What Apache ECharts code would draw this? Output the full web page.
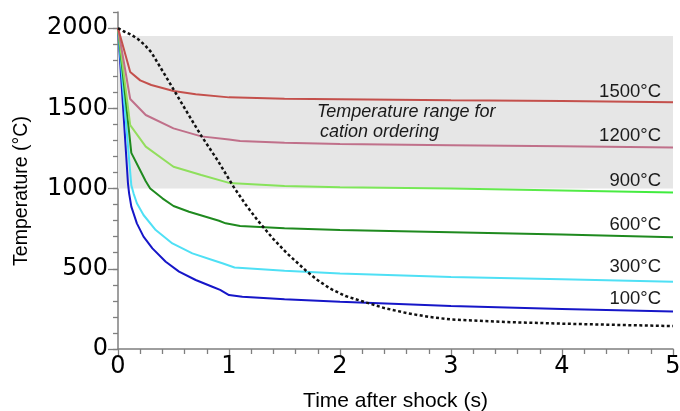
<!DOCTYPE html>
<html>
<head>
<meta charset="utf-8">
<script src="https://cdn.jsdelivr.net/npm/echarts@6/dist/echarts.min.js"></script>
<style>
html,body{margin:0;padding:0;background:#fff;}
#chart{width:680px;height:411px;}
</style>
</head>
<body>
<div id="chart"></div>
<script>
// ---- data ----
var t1500 = [0, 0.11, 0.2, 0.3, 0.5, 0.7, 1.0, 1.5, 2, 3, 4, 5];
var T1500 = [2000, 1726, 1674, 1645, 1608, 1588, 1568, 1560, 1557, 1550, 1545, 1537];

var t1200 = [0, 0.11, 0.25, 0.5, 0.75, 1.0, 1.1, 1.5, 2, 3, 4, 5];
var T1200 = [2000, 1558, 1458, 1375, 1325, 1305, 1296, 1285, 1277, 1270, 1263, 1255];

var t900 = [0, 0.11, 0.25, 0.5, 0.75, 1.0, 1.5, 2, 3, 4, 5];
var T900 = [2000, 1395, 1261, 1136, 1084, 1035, 1015, 1008, 1000, 988, 976];

var t600 = [0, 0.12, 0.25, 0.29, 0.4, 0.5, 0.64, 0.79, 0.91, 0.97, 1.1, 1.5, 2, 3, 4, 5];
var T600 = [2000, 1222, 1045, 1000, 939, 891, 855, 824, 799, 783, 767, 752, 741, 727, 713, 696];

var t300 = [0, 0.12, 0.14, 0.17, 0.23, 0.34, 0.49, 0.67, 0.85, 0.94, 1.05, 1.5, 2, 3, 4, 5];
var T300 = [2000, 1020, 970, 908, 835, 741, 658, 596, 555, 534, 508, 487, 470, 448, 434, 419];

var t100 = [0, 0.09, 0.1, 0.12, 0.17, 0.23, 0.31, 0.43, 0.55, 0.7, 0.85, 0.92, 1.0, 1.12, 1.5, 2, 3, 4, 5];
var T100 = [2000, 1030, 970, 887, 783, 700, 627, 544, 482, 430, 388, 368, 336, 326, 310, 295, 268, 250, 233];

var tDot = [0, 0.05, 0.12, 0.18, 0.24, 0.3, 0.4, 0.525, 0.63, 0.75, 0.9, 1.04, 1.15, 1.26, 1.4, 1.52, 1.7, 1.8, 1.91, 2.05, 2.24, 2.4, 2.6, 2.8, 3.0, 3.5, 4, 4.5, 5];
var TDot = [2000, 1980, 1958, 1931, 1895, 1849, 1734, 1589, 1466, 1329, 1173, 1012, 900, 800, 685, 598, 484, 428, 377, 330, 289, 255, 224, 200, 184, 168, 158, 150, 143];

var curveLabels = ['1500°C', '1200°C', '900°C', '600°C', '300°C', '100°C'];
var rangeText = ['Temperature range for', 'cation ordering'];
var rangeLow = 1000, rangeHigh = 1950;
var yMajorTicks = [0, 500, 1000, 1500, 2000];
var xTitle = 'Time after shock (s)';
var yTitle = 'Temperature (°C)';

function pairs(t, T) { return t.map(function (v, i) { return [v, T[i]]; }); }

var axisGray = '#7f7f7f';
var chart = echarts.init(document.getElementById('chart'));

function lineSeries(name, t, T, color, extra) {
  var s = {
    name: name, type: 'line', data: pairs(t, T), showSymbol: false, symbol: 'none',
    lineStyle: { color: color, width: 2 }, silent: true, animation: false
  };
  if (extra) for (var k in extra) s[k] = extra[k];
  return s;
}

var green900 = new echarts.graphic.LinearGradient(0, 0, 1, 0, [
  { offset: 0, color: '#96dc5e' }, { offset: 0.5, color: '#7ae858' }, { offset: 1, color: '#3cec3c' }
]);

var option = {
  backgroundColor: '#ffffff',
  animation: false,
  grid: { left: 118, right: 7, top: 12, bottom: 62, containLabel: false, outerBoundsMode: 'none' },
  xAxis: {
    type: 'value', min: 0, max: 5, interval: 1,
    axisLine: { show: true, lineStyle: { color: axisGray, width: 1.5 } },
    axisTick: { show: true, length: 7, lineStyle: { color: axisGray, width: 1.3 } },
    minorTick: { show: true, splitNumber: 5, length: 5, lineStyle: { color: axisGray, width: 1.3 } },
    splitLine: { show: false },
    axisLabel: { fontSize: 24, color: '#000', margin: 6, fontFamily: 'DejaVu Sans' },
    name: xTitle, nameLocation: 'middle', nameGap: 42,
    nameTextStyle: { fontSize: 21, color: '#000', fontFamily: 'Liberation Sans' }
  },
  yAxis: [
    {
      type: 'value', min: 0, max: 2100, interval: 100,
      axisLine: { show: true, lineStyle: { color: axisGray, width: 1.5 } },
      axisTick: { show: true, length: 5, lineStyle: { color: axisGray, width: 1.3 } },
      axisLabel: { show: false },
      splitLine: { show: false }
    },
    {
      type: 'value', min: 0, max: 2100, interval: 500, position: 'left',
      axisLine: { show: false },
      axisTick: { show: true, length: 10, customValues: yMajorTicks, lineStyle: { color: axisGray, width: 1.3 } },
      axisLabel: {
        fontSize: 24, color: '#000', margin: 10, fontFamily: 'DejaVu Sans', customValues: yMajorTicks,
        formatter: function (v) { return v > 2000 ? '' : String(v); }
      },
      splitLine: { show: false }
    }
  ],
  series: [
    lineSeries('100', t100, T100, '#1616c8', {
      markArea: {
        silent: true,
        itemStyle: { color: '#e6e6e6' },
        data: [[{ coord: [0, rangeHigh] }, { coord: [5, rangeLow] }]]
      }
    }),
    lineSeries('300', t300, T300, '#4fe0f5'),
    lineSeries('600', t600, T600, '#1f8a1f'),
    lineSeries('900', t900, T900, green900),
    lineSeries('1200', t1200, T1200, '#c0708a'),
    lineSeries('1500', t1500, T1500, '#c4504c'),
    lineSeries('shock', tDot, TDot, '#111', {
      smooth: false,
      lineStyle: { color: '#111', width: 2.5, type: [3, 2.5] }
    })
  ],
  graphic: [
    { type: 'text', x: 22, y: 191, rotation: Math.PI / 2, z: 100,
      style: { text: yTitle, fontSize: 19.5, fill: '#000', fontFamily: 'Liberation Sans', align: 'center', verticalAlign: 'middle' } },
    { type: 'text', x: 317, y: 112, z: 100,
      style: { text: rangeText[0], fontSize: 18, fontStyle: 'italic', fill: '#1a1a1a', fontFamily: 'Liberation Sans', align: 'left', verticalAlign: 'middle' } },
    { type: 'text', x: 320, y: 132, z: 100,
      style: { text: rangeText[1], fontSize: 18, fontStyle: 'italic', fill: '#1a1a1a', fontFamily: 'Liberation Sans', align: 'left', verticalAlign: 'middle' } }
  ].concat(curveLabels.map(function (txt, i) {
    var ys = [91.5, 135.5, 180.5, 225, 266.5, 298.5];
    return { type: 'text', x: 661, y: ys[i], z: 100,
      style: { text: txt, fontSize: 18.5, fill: '#1a1a1a', fontFamily: 'Liberation Sans', align: 'right', verticalAlign: 'middle' } };
  }))
};
chart.setOption(option);
</script>
</body>
</html>
